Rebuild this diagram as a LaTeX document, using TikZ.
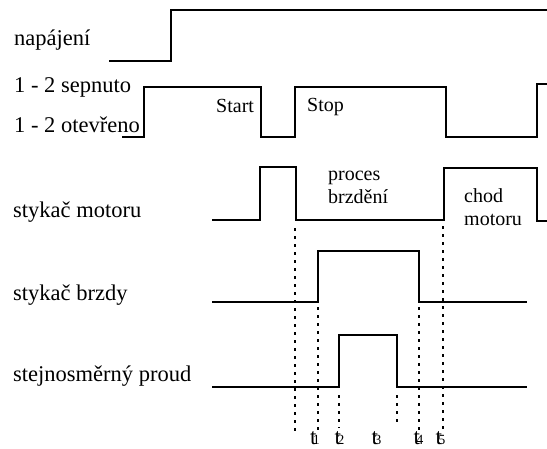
\documentclass[tikz,border=0pt]{standalone}
\usepackage{fontspec}
\setmainfont{Liberation Serif}
\begin{document}
\begin{tikzpicture}[x=1pt,y=-1pt,
  sig/.style={line width=1.6pt,line join=miter},
  dots/.style={line width=1.4pt,dash pattern=on 3pt off 5pt},
  biglab/.style={anchor=base west,inner sep=0pt,font=\fontsize{22.5}{24}\selectfont},
  smlab/.style={anchor=base west,inner sep=0pt,font=\fontsize{20}{22}\selectfont},
  tlab/.style={anchor=base,inner sep=0pt,font=\fontsize{23}{24}\selectfont}]
\useasboundingbox (0,0) rectangle (547,448);
% labels
\node[biglab] (lnap) at (14,45) {napájení};
\node[biglab] (lsep) at (14,92) {1 - 2 sepnuto};
\node[biglab] (lote) at (14,132) {1 - 2 otevřeno};
\node[biglab] (lmot) at (13,217) {stykač motoru};
\node[biglab] (lbrz) at (13,300) {stykač brzdy};
\node[biglab] (lss) at (13,381) {stejnosměrný proud};
\node[smlab] (lstart) at (216,112) {Start};
\node[smlab] (lstop) at (307,111) {Stop};
\node[smlab] (lproc) at (328,180) {proces};
\node[smlab] (lbrzd) at (328,203) {brzdění};
\node[smlab] (lchod) at (464,202) {chod};
\node[smlab] (lmotr) at (464,225) {motoru};
% waveforms
\draw[sig] (109,61) -- (171,61) -- (171,10) -- (547,10);
\draw[sig] (122,137) -- (144,137) -- (144,87) -- (261,87) -- (261,137) -- (295,137) -- (295,87) -- (446,87) -- (446,137) -- (537,137) -- (537,84) -- (547,84);
\draw[sig] (212,220) -- (260,220) -- (260,167) -- (296,167) -- (296,220) -- (444,220) -- (444,168) -- (537,168) -- (537,221) -- (547,221);
\draw[sig] (212,302) -- (318,302) -- (318,251) -- (419,251) -- (419,302) -- (527,302);
\draw[sig] (212,387) -- (339,387) -- (339,335) -- (397,335) -- (397,387) -- (527,387);
% time labels
\newcommand{\tl}[1]{t\kern-3.5pt{\fontsize{14}{15}\selectfont #1}}
\node[tlab] (t1) at (315,444) {\tl{1}};
\node[tlab] (t2) at (339.5,444) {\tl{2}};
\node[tlab] (t3) at (376.5,444) {\tl{3}};
\node[tlab] (t4) at (418.5,444) {\tl{4}};
\node[tlab] (t5) at (440.5,444) {\tl{5}};
% dotted lines
\coordinate (d0a) at (295,228); \coordinate (d0b) at (295,431);
\coordinate (d1a) at (318,307); \coordinate (d1b) at (318,430);
\coordinate (d2a) at (339,395); \coordinate (d2b) at (339,428);
\coordinate (d3a) at (397,395); \coordinate (d3b) at (397,425);
\coordinate (d4a) at (419,307); \coordinate (d4b) at (419,430);
\coordinate (d5a) at (443,226); \coordinate (d5b) at (443,430);
\foreach \i in {0,...,5} {\draw[dots] (d\i a) -- (d\i b);}
\end{tikzpicture}
\end{document}
